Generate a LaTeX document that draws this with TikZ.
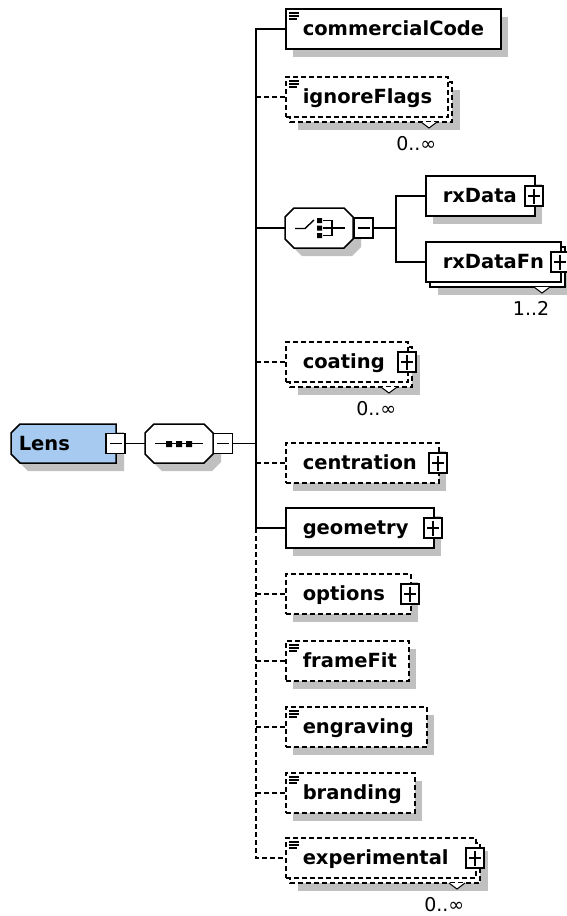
\documentclass[tikz,border=0pt]{standalone}
\usepackage{fontspec}
\setmainfont{DejaVu Sans}
\usetikzlibrary{calc}
\definecolor{lensblue}{RGB}{166,202,240}
\definecolor{shd}{RGB}{192,192,192}
\tikzset{
  opt/.style={dash pattern=on 5pt off 3pt},
  req/.style={solid},
  elbox/.style={draw, fill=white, rectangle, inner sep=0pt, minimum height=40pt, anchor=west},
  lbl/.style={font=\fontsize{19.5}{24}\selectfont\bfseries, inner sep=0pt, anchor=base west},
  occ/.style={font=\fontsize{19}{22}\selectfont, inner sep=0pt, anchor=base east},
  pmbox/.style={draw, solid, fill=white, rectangle, minimum width=18pt, minimum height=20pt, inner sep=0pt},
  mmbox/.style={draw, solid, fill=white, rectangle, minimum width=19pt, minimum height=20pt, inner sep=0pt},
  sign/.style={solid, line width=1.4pt},
  docline/.style={solid, line width=1.2pt},
  ghost/.style={inner sep=0pt, rectangle},
}
% element box: #1 name, #2 left, #3 centre y, #4 right, #5 req/opt, #6 multi (0/1), #7 text
\newcommand\xel[7]{%
  \ifnum#6=1\relax
    \fill[shd] (#2+13,#3-7) rectangle (#4+13,#3+33);
    \draw[#5, fill=white] (#2+5,#3-15) rectangle (#4+5,#3+25);
  \else
    \fill[shd] (#2+8,#3-12) rectangle (#4+8,#3+28);
  \fi
  \node[elbox,#5,minimum width={#4-#2}] (#1) at (#2,#3) {};
  \node[lbl] (#1-t) at (#2+17,#3+6) {#7};
}
\newcommand\docic[2]{%
  \draw[docline] (#1+4,#2-16) -- ++(10,0) (#1+4,#2-13) -- ++(10,0) (#1+4,#2-10) -- ++(8,0);
}
\newcommand\plusbox[3]{%
  \node[pmbox] (#1) at (#2,#3) {};
  \draw[sign] ($(#1.center)+(-6,0)$) -- ($(#1.center)+(6,0)$)
              ($(#1.center)+(0,-7.5)$) -- ($(#1.center)+(0,7.5)$);
}
\newcommand\minusbox[3]{%
  \node[mmbox] (#1) at (#2,#3) {};
  \draw[sign] ($(#1.center)+(-6,0)$) -- ($(#1.center)+(6,0)$);
}
% occurrence label: #1 name, #2 back-box right, #3 centre y, #4 text
\newcommand\occl[4]{%
  \filldraw[solid, fill=white, line width=1pt] (#2-31,#3+25) -- (#2-23,#3+31) -- (#2-15,#3+25);
  \node[occ] (#1) at (#2-15,#3+53) {#4};
}
\begin{document}
\begin{tikzpicture}[x=1pt,y=-1pt,line width=1.5pt]
\useasboundingbox (0,0) rectangle (567,916);

% ---- Lens ----
\fill[shd] (28,432) -- (124,432) -- (124,471) -- (28,471) -- (19,462) -- (19,441) -- cycle;
\draw[fill=lensblue] (20,424) -- (116,424) -- (116,463) -- (20,463) -- (11,454) -- (11,433) -- cycle;
\node[lbl] (lens) at (18,450) {Lens};
\minusbox{lens-m}{115.5}{443.5}

% ---- sequence compositor ----
\fill[shd] (162,432) -- (212,432) -- (221,441) -- (221,462) -- (212,471) -- (162,471) -- (153,462) -- (153,441) -- cycle;
\draw[fill=white] (154,424) -- (204,424) -- (213,433) -- (213,454) -- (204,463) -- (154,463) -- (145,454) -- (145,433) -- cycle;
\node[ghost, minimum width=68pt, minimum height=39pt, anchor=west] (seq) at (145,443.5) {};
\draw[line width=1.4pt] (155,443.5) -- (203,443.5);
\fill (166,441) rectangle ++(6,6) (176,441) rectangle ++(6,6) (186,441) rectangle ++(6,6);
\minusbox{seq-m}{223}{443.5}

% ---- choice compositor ----
\fill[shd] (302,216) -- (352,216) -- (361,225) -- (361,247) -- (352,256) -- (302,256) -- (293,247) -- (293,225) -- cycle;
\draw[fill=white] (294,208) -- (344,208) -- (353,217) -- (353,239) -- (344,248) -- (294,248) -- (285,239) -- (285,217) -- cycle;
\node[ghost, minimum width=68pt, minimum height=40pt, anchor=west] (cho) at (285,228) {};
\draw[line width=1.4pt] (295,228.5) -- (305,228.5) -- (314,220);
\fill (317,218) rectangle ++(5,5) (317,225.5) rectangle ++(5,5) (317,233) rectangle ++(5,5);
\draw[line width=1.4pt] (323,220.5) -- (332,220.5) -- (332,235.5) -- (323,235.5)
                        (323,228) -- (345,228);
\minusbox{cho-m}{363.5}{228}

% ---- elements ----
\xel{cc}{285}{29}{500}{req}{0}{commercialCode}
\docic{285}{29}
\xel{ig}{285}{97}{447}{opt}{1}{ignoreFlags}
\docic{285}{97}
\occl{ig-o}{452}{97}{0..∞}

\xel{rxd}{425}{196}{534}{req}{0}{rxData}
\plusbox{rxd-p}{534}{196}
\xel{rxf}{425}{262}{560}{req}{1}{rxDataFn}
\plusbox{rxf-p}{560}{262}
\occl{rxf-o}{565}{262}{1..2}

\xel{coa}{285}{362}{407}{opt}{1}{coating}
\plusbox{coa-p}{407}{362}
\occl{coa-o}{412}{362}{0..∞}

\xel{cen}{285}{463}{438}{opt}{0}{centration}
\plusbox{cen-p}{438}{463}

\xel{geo}{285}{528}{433}{req}{0}{geometry}
\plusbox{geo-p}{433}{528}

\xel{opn}{285}{594}{410}{opt}{0}{options}
\plusbox{opn-p}{410}{594}

\xel{ff}{285}{661}{408}{opt}{0}{frameFit}
\docic{285}{661}
\xel{eng}{285}{727}{426}{opt}{0}{engraving}
\docic{285}{727}
\xel{br}{285}{793}{414}{opt}{0}{branding}
\docic{285}{793}

\xel{exp}{285}{858}{475}{opt}{1}{experimental}
\docic{285}{858}
\plusbox{exp-p}{475}{858}
\occl{exp-o}{480}{858}{0..∞}

% ---- connectors ----
\coordinate (bus) at (256,443.5);
\draw[req] (lens-m.east) -- (seq.west);
\draw[req] (seq-m.east) -- (bus);
\draw[req] (cc.west) -- (cc.west -| bus) -- (geo.west -| bus) -- (geo.west);
\draw[opt] (geo.west -| bus) -- (exp.west -| bus) -- (exp.west);
\draw[opt] (ig.west -| bus) -- (ig.west);
\draw[req] (cho.west -| bus) -- (cho.west);
\draw[opt] (coa.west -| bus) -- (coa.west);
\draw[opt] (cen.west -| bus) -- (cen.west);
\draw[opt] (opn.west -| bus) -- (opn.west);
\draw[opt] (ff.west -| bus) -- (ff.west);
\draw[opt] (eng.west -| bus) -- (eng.west);
\draw[opt] (br.west -| bus) -- (br.west);
\coordinate (sub) at (396,228);
\draw[req] (cho-m.east) -- (sub);
\draw[req] (rxd.west) -- (rxd.west -| sub) -- (rxf.west -| sub) -- (rxf.west);
\end{tikzpicture}
\end{document}
